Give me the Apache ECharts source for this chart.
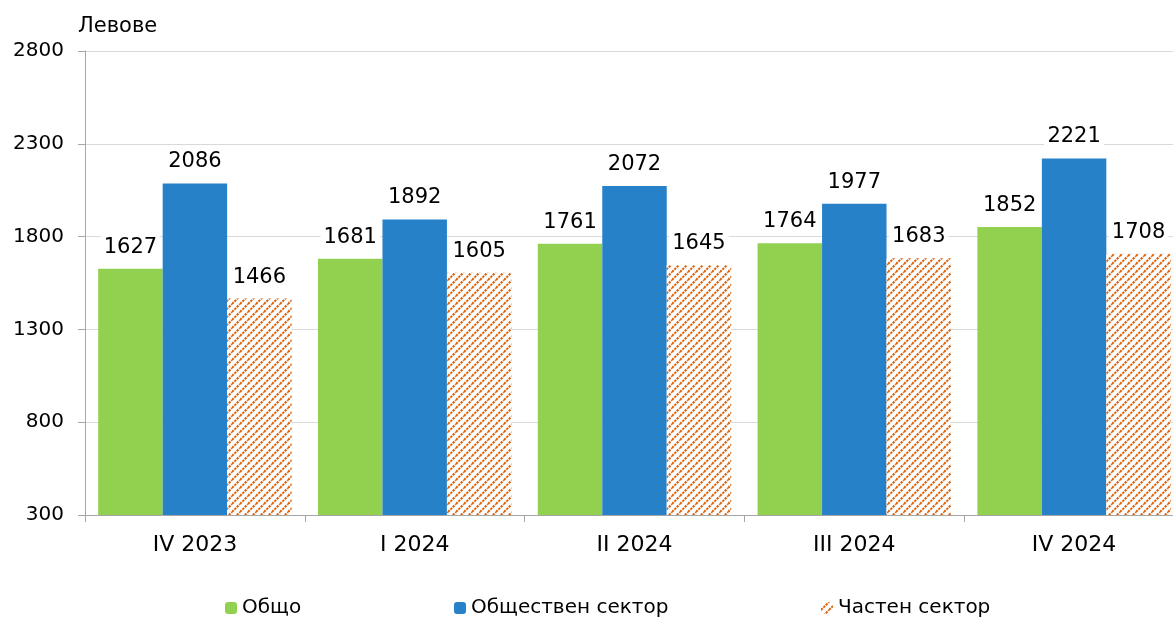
<!DOCTYPE html>
<html>
<head>
<meta charset="utf-8">
<script src="https://cdn.jsdelivr.net/npm/echarts@6/dist/echarts.min.js"></script>
<style>
  html, body { margin: 0; padding: 0; background: #fff; }
  #chart { width: 1173px; height: 619px; }
</style>
</head>
<body>
<div id="chart"></div>
<script>
const categories = ['IV 2023', 'I 2024', 'II 2024', 'III 2024', 'IV 2024']
const seriesNames = ['Общо', 'Обществен сектор', 'Частен сектор']
const totalValues = [1627, 1681, 1761, 1764, 1852]
const publicValues = [2086, 1892, 2072, 1977, 2221]
const privateValues = [1466, 1605, 1645, 1683, 1708]

// hatched fill for the private sector bars
function makeHatch() {
  const s = 8
  const c = document.createElement('canvas')
  c.width = s
  c.height = s
  const ctx = c.getContext('2d')
  ctx.fillStyle = '#ffffff'
  ctx.fillRect(0, 0, s, s)
  ctx.strokeStyle = '#db620c'
  ctx.lineWidth = 2
  ctx.setLineDash([2.4, 1])
  ctx.beginPath()
  ctx.moveTo(0, s)
  ctx.lineTo(s, 0)
  ctx.moveTo(-s / 2, s / 2)
  ctx.lineTo(s / 2, -s / 2)
  ctx.moveTo(s / 2, s * 1.5)
  ctx.lineTo(s * 1.5, s / 2)
  ctx.stroke()
  return c
}
const hatch = { image: makeHatch(), repeat: 'repeat' }

const font = 'DejaVu Sans'
const labelStyle = {
  show: true,
  position: 'top',
  distance: 9,
  fontFamily: font,
  fontSize: 21,
  color: '#000',
  backgroundColor: '#fff',
  padding: [2, 3]
}
const legendText = { fontFamily: font, fontSize: 20, color: '#000' }

const myChart = echarts.init(document.getElementById('chart'))

myChart.setOption({
  animation: false,
  grid: { left: 85, width: 1099, top: 51, bottom: 104, outerBoundsMode: 'none', containLabel: false },
  legend: [
    { data: [seriesNames[0]], left: 225, top: 598, padding: 0, itemWidth: 12, itemHeight: 12, textStyle: legendText },
    { data: [seriesNames[1]], left: 454, top: 598, padding: 0, itemWidth: 12, itemHeight: 12, textStyle: legendText },
    { data: [seriesNames[2]], left: 821, top: 598, padding: 0, itemWidth: 12, itemHeight: 12, textStyle: legendText }
  ],
  xAxis: {
    type: 'category',
    data: categories,
    axisLine: { show: true, lineStyle: { color: '#a6a6a6' } },
    axisTick: { show: true, length: 7, lineStyle: { color: '#a6a6a6' } },
    axisLabel: { fontFamily: font, fontSize: 22, color: '#000', margin: 19 }
  },
  yAxis: {
    type: 'value',
    min: 300,
    max: 2800,
    interval: 500,
    name: 'Левове',
    nameLocation: 'end',
    nameGap: 14,
    nameTextStyle: { fontFamily: font, fontSize: 21, color: '#000', align: 'left', padding: [0, 0, 0, -7] },
    axisLine: { show: true, lineStyle: { color: '#a6a6a6' } },
    axisTick: { show: true, length: 7, lineStyle: { color: '#a6a6a6' } },
    axisLabel: { fontFamily: font, fontSize: 20, color: '#000', margin: 21, formatter: function(v) { return String(v) } },
    splitLine: { show: true, lineStyle: { color: '#d9d9d9' } }
  },
  series: [
    {
      name: seriesNames[0],
      type: 'bar',
      data: totalValues,
      barGap: '0%',
      barCategoryGap: '12%',
      itemStyle: { color: '#92d050' },
      label: labelStyle
    },
    {
      name: seriesNames[1],
      type: 'bar',
      data: publicValues,
      itemStyle: { color: '#2681c9' },
      label: labelStyle
    },
    {
      name: seriesNames[2],
      type: 'bar',
      data: privateValues,
      itemStyle: { color: hatch },
      label: labelStyle
    }
  ]
})
</script>
</body>
</html>
